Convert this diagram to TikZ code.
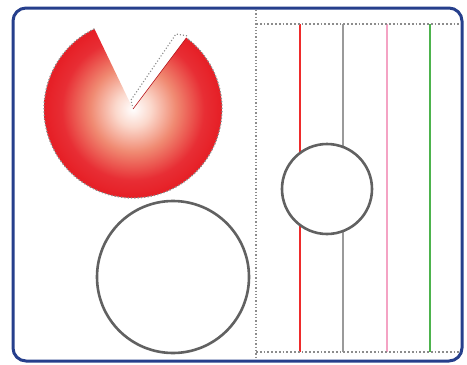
\documentclass[tikz,border=0pt]{standalone}
\usepackage{tikz}
\usetikzlibrary{positioning,calc}
\definecolor{frameblue}{HTML}{263F8C}
\definecolor{pieRed}{HTML}{E61E25}
\definecolor{pieSalmon}{HTML}{F08A72}
\definecolor{piePeach}{HTML}{FBD8CC}
\definecolor{lineRed}{HTML}{EE2B2B}
\definecolor{lineGray}{HTML}{9A9A9A}
\definecolor{linePink}{HTML}{F4A3C4}
\definecolor{lineGreen}{HTML}{4DB34D}
\pgfdeclareradialshading{piefade}{\pgfpoint{0bp}{0bp}}{color(0bp)=(white);
    color(5bp)=(piePeach); color(12bp)=(pieSalmon); color(20bp)=(pieRed!93!white);
    color(25bp)=(pieRed); color(50bp)=(pieRed)}
\begin{document}
\begin{tikzpicture}[x=1pt,y=-1pt,
    frame/.style={draw=frameblue, line width=3pt, rounded corners=13pt},
    cutline/.style={draw=black!45, dotted, line width=1.3pt},
    ring/.style={circle, draw=black!62, line width=2.6pt, fill=white, inner sep=0pt},
    stripe/.style={line width=1.8pt}
]
\useasboundingbox (0,0) rectangle (467,365);
\fill[white] (0,0) rectangle (467,365);

% left half
\coordinate (pc) at (133,109);
\filldraw[fill=white, draw=black!45, dotted, line width=1.1pt]
    (pc) -- (131,100) -- (176,34) -- (188,36);
\begin{scope}
\clip (pc) -- ++(-115.7:89) arc[start angle=-115.7, end angle=-413.1, radius=89] -- cycle;
\shade[shading=piefade] (pc) circle (89);
\end{scope}
\draw[cutline] (pc) ++(-115.7:89) arc[start angle=-115.7, end angle=-413.1, radius=89];
\draw[pieRed!80!black, line width=0.6pt] (pc) -- ++(-53.1:89);
\node[ring, minimum size=152pt] (bigring) at (173,277) {};

% right half
\draw[cutline] (256,10) -- (256,359);
\coordinate (tl) at (256,24);
\coordinate (bl) at (256,352);
\foreach \xx/\cc in {44/lineRed, 87/lineGray, 131/linePink, 174/lineGreen}
    \draw[stripe, \cc] ($(tl)+(\xx,0)$) -- ($(bl)+(\xx,0)$);
\draw[cutline, line width=1.8pt] (tl) -- (461,24);
\draw[cutline, line width=1.8pt] (bl) -- (461,352);
\node[ring, minimum size=90pt] (smallring) at (327,189) {};

\draw[frame] (13,8) rectangle (462,361);
\end{tikzpicture}
\end{document}
